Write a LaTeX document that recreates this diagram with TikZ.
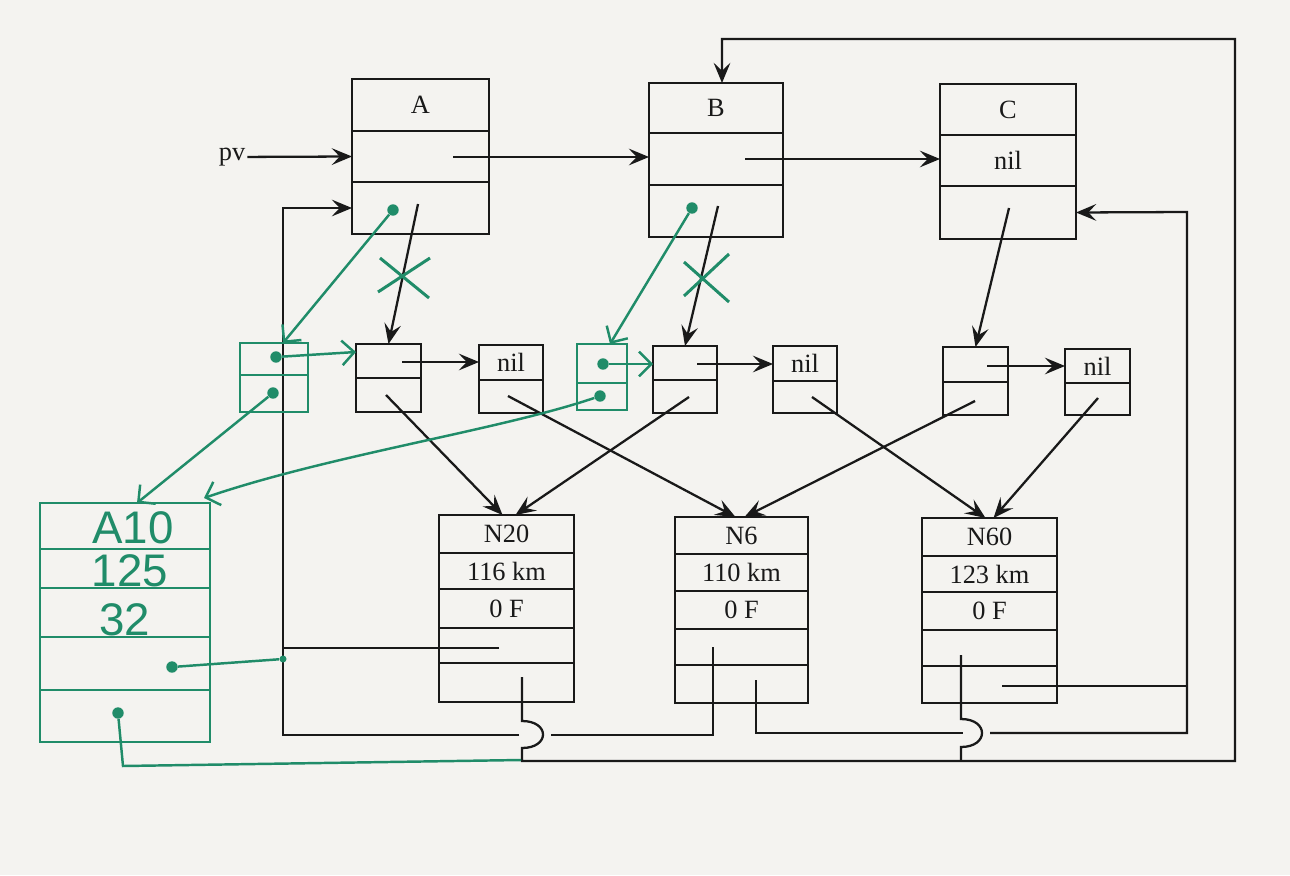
\documentclass[tikz,border=0pt]{standalone}
\usepackage{fontspec}
\setmainfont{Liberation Serif}
\newfontfamily\handfont{Liberation Sans}
\usetikzlibrary{arrows.meta,fit,calc}
\definecolor{ink}{RGB}{25,25,25}
\definecolor{pen}{RGB}{32,140,105}
\definecolor{paper}{RGB}{244,243,240}
\begin{document}
\begin{tikzpicture}[x=0.02cm,y=-0.02cm,
  cellbox/.style={draw=ink, line width=1.3pt, rectangle, inner sep=0pt, outer sep=0pt},
  gbox/.style={draw=pen, line width=1.4pt, rectangle, inner sep=0pt, outer sep=0pt},
  wire/.style={draw=ink, line width=1.3pt},
  arr/.style={wire, -{Stealth[length=11.5pt,width=9.5pt,inset=4.5pt]}},
  gwire/.style={draw=pen, line width=1.4pt},
  garr/.style={gwire, -{Straight Barb[length=7pt,width=14pt]}},
  gdot/.style={circle, fill=pen, inner sep=0pt, minimum size=6.5pt},
  gtext/.style={text=pen, font=\handfont\fontsize{26}{26}\selectfont},
  lab/.style={text=ink, font=\fontsize{15}{17}\selectfont, inner sep=1pt},
]
\fill[paper] (0,0) rectangle (1290,875);
\useasboundingbox (0,0) rectangle (1290,875);

% ---- top row ----
\node[cellbox, fit={(352,79) (489,131)}, label={[lab]center:A}] (A1) {};
\node[cellbox, fit={(352,131) (489,182)}] (A2) {};
\node[cellbox, fit={(352,182) (489,234)}] (A3) {};
\node[cellbox, fit={(649,83) (783,133)}, label={[lab]center:B}] (B1) {};
\node[cellbox, fit={(649,133) (783,185)}] (B2) {};
\node[cellbox, fit={(649,185) (783,237)}] (B3) {};
\node[cellbox, fit={(940,84) (1076,135)}, label={[lab]center:C}] (C1) {};
\node[cellbox, fit={(940,135) (1076,186)}, label={[lab]center:nil}] (C2) {};
\node[cellbox, fit={(940,186) (1076,239)}] (C3) {};

% ---- middle row ----
\node[cellbox, fit={(356,344) (421,378)}] (a1t) {};
\node[cellbox, fit={(356,378) (421,412)}] (a1b) {};
\node[cellbox, fit={(479,345) (543,380)}, label={[lab]center:nil}] (a2t) {};
\node[cellbox, fit={(479,380) (543,413)}] (a2b) {};
\node[cellbox, fit={(653,346) (717,380)}] (b1t) {};
\node[cellbox, fit={(653,380) (717,413)}] (b1b) {};
\node[cellbox, fit={(773,346) (837,381)}, label={[lab]center:nil}] (b2t) {};
\node[cellbox, fit={(773,381) (837,413)}] (b2b) {};
\node[cellbox, fit={(943,347) (1008,382)}] (c1t) {};
\node[cellbox, fit={(943,382) (1008,415)}] (c1b) {};
\node[cellbox, fit={(1065,349) (1130,383)}, label={[lab]center:nil}] (c2t) {};
\node[cellbox, fit={(1065,383) (1130,415)}] (c2b) {};

% ---- bottom row ----
\node[cellbox, fit={(439,515) (574,553)}, label={[lab]center:N20}] (N20a) {};
\node[cellbox, fit={(439,553) (574,589)}, label={[lab]center:116 km}] (N20b) {};
\node[cellbox, fit={(439,589) (574,628)}, label={[lab]center:0 F}] (N20c) {};
\node[cellbox, fit={(439,628) (574,663)}] (N20d) {};
\node[cellbox, fit={(439,663) (574,702)}] (N20e) {};
\node[cellbox, fit={(675,517) (808,554)}, label={[lab]center:N6}] (N6a) {};
\node[cellbox, fit={(675,554) (808,591)}, label={[lab]center:110 km}] (N6b) {};
\node[cellbox, fit={(675,591) (808,629)}, label={[lab]center:0 F}] (N6c) {};
\node[cellbox, fit={(675,629) (808,665)}] (N6d) {};
\node[cellbox, fit={(675,665) (808,703)}] (N6e) {};
\node[cellbox, fit={(922,518) (1057,556)}, label={[lab]center:N60}] (N60a) {};
\node[cellbox, fit={(922,556) (1057,592)}, label={[lab]center:123 km}] (N60b) {};
\node[cellbox, fit={(922,592) (1057,630)}, label={[lab]center:0 F}] (N60c) {};
\node[cellbox, fit={(922,630) (1057,666)}] (N60d) {};
\node[cellbox, fit={(922,666) (1057,703)}] (N60e) {};

\node[lab] (pv) at (232,157) {pv};

% pointer origins
\coordinate (pA2) at (453,157);
\coordinate (pB2) at (745,159);
\coordinate (pA3) at (418,204);
\coordinate (pB3) at (718,206);
\coordinate (pC3) at (1009,208);
\coordinate (pa1) at (402,362);
\coordinate (pb1) at (697,364);
\coordinate (pc1) at (987,366);
\coordinate (pa1b) at (386,395);
\coordinate (pa2b) at (508,396);
\coordinate (pb1b) at (689,397);
\coordinate (pb2b) at (812,397);
\coordinate (pc1b) at (975,401);
\coordinate (pc2b) at (1098,398);
\coordinate (p20n) at (499,648);
\coordinate (p20l) at (522,677);
\coordinate (p6n) at (713,647);
\coordinate (p6l) at (756,680);
\coordinate (p60n) at (961,655);
\coordinate (p60l) at (1002,686);
\coordinate (jA) at (283,648);

% ---- black connectors ----
\draw[arr] (pv) -- (A2.west);
\draw[arr] (pA2) -- (pA2 -| B2.west);
\draw[arr] (pB2) -- (pB2 -| C2.west);
\draw[arr] (pA3) -- (a1t.north);
\draw[arr] (pB3) -- (b1t.north);
\draw[arr] (pC3) -- (c1t.north);
\draw[arr] (pa1) -- (pa1 -| a2t.west);
\draw[arr] (pb1) -- (pb1 -| b2t.west);
\draw[arr] (pc1) -- (pc1 -| c2t.west);
\draw[arr] (pa1b) -- ($(N20a.north)+(-4,0)$);
\draw[arr] (pb1b) -- ($(N20a.north)+(9,0)$);
\draw[arr] (pa2b) -- ($(N6a.north)+(-6,0)$);
\draw[arr] (pc1b) -- ($(N6a.north)+(3,0)$);
\draw[arr] (pb2b) -- ($(N60a.north)+(-4,0)$);
\draw[arr] (pc2b) -- ($(N60a.north)+(4,0)$);

% N20 next -> junction on A line
\draw[wire] (p20n) -- (jA);
% N6 next -> A
\draw[wire] (p6n) -- (713,735) -- (551,735);
\draw[arr] (519,735) -- (283,735) -- (283,208) -- (A3.west);
% N20 last -> B (with hop)
\draw[arr] (p20l) -- (522,721) .. controls (550,721) and (550,748) .. (522,748) -- (522,761) -- (1235,761) -- (1235,39) -- (722,39) -- ($(B1.north)+(6,0)$);
% N60 next joins bottom line (with hop)
\draw[wire] (p60n) -- (961,719) .. controls (989,719) and (989,747) .. (961,747) -- (961,761);
% N6 last -> C
\draw[wire] (p6l) -- (756,733) -- (963,733);
\draw[arr] (990,733) -- (1187,733) -- (1187,212) -- (C3.east);
% N60 last -> C line
\draw[wire] (p60l) -- (1187,686);

% ---- green handwritten additions ----
\node[gbox, fit={(240,343) (308,375)}] (gA1) {};
\node[gbox, fit={(240,375) (308,412)}] (gA2) {};
\node[gbox, fit={(577,344) (627,383)}] (gB1) {};
\node[gbox, fit={(577,383) (627,410)}] (gB2) {};
\node[gbox, fit={(40,503) (210,549)}] (G1) {};
\node[gbox, fit={(40,549) (210,588)}] (G2) {};
\node[gbox, fit={(40,588) (210,637)}] (G3) {};
\node[gbox, fit={(40,637) (210,690)}] (G4) {};
\node[gbox, fit={(40,690) (210,742)}] (G5) {};
\node[gtext] (tA10) at (133,528) {A10};
\node[gtext] (t125) at (130,571) {125};
\node[gtext] (t32) at (125,620) {32};

\node[gdot] (dA) at (393,210) {};
\node[gdot] (dB) at (692,208) {};
\node[gdot] (dgA1) at (276,357) {};
\node[gdot] (dgA2) at (273,393) {};
\node[gdot] (dgB1) at (603,364) {};
\node[gdot] (dgB2) at (600,396) {};
\node[gdot] (dG4) at (172,667) {};
\node[gdot] (dG5) at (118,713) {};
\node[gdot, minimum size=4pt] (dJ) at (283,659) {};

\draw[garr] (dA) -- ($(gA1.north)+(9,0)$);
\draw[garr] (dB) -- ($(gB1.north)+(8,0)$);
\draw[garr] (dgA1) -- ($(a1t.west)+(0,-9)$);
\draw[garr] (dgB1) -- (dgB1 -| b1t.west);
\draw[garr] (dgA2) -- ($(G1.north)+(12,0)$);
\draw[garr] (dgB2) .. controls (500,430) and (330,455) .. ($(G1.north east)+(-6,-5)$);
\draw[gwire] (dG4) -- (dJ);
\draw[gwire] (dG5) -- (123,766) -- (521,760);

% crosses on the replaced pointers
\draw[gwire, line width=1.7pt] (380,258) -- (429,298) (378,292) -- (430,258);
\draw[gwire, line width=1.7pt] (684,262) -- (729,302) (684,296) -- (729,254);
\end{tikzpicture}
\end{document}
